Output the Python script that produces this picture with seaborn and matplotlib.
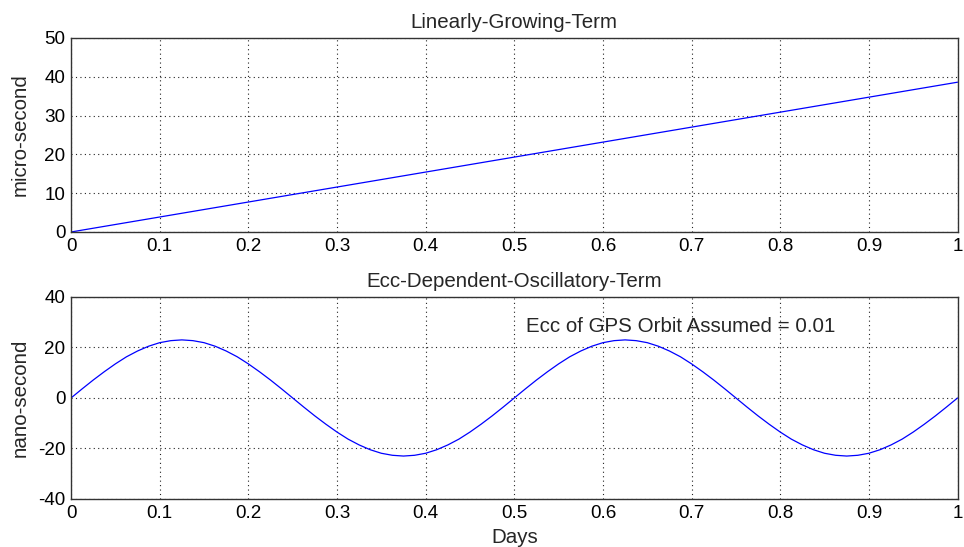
import numpy as np
import pandas as pd
import seaborn as sns
import matplotlib
matplotlib.use("Agg")
import matplotlib.pyplot as plt

# linear term (micro-second)
days_lin = [0.0, 1.0]
micro_sec = [0.0, 38.6]

# oscillatory term (nano-second), read every 0.0125 day
days_osc = [round(0.0125 * i, 4) for i in range(81)]
nano_sec = [0, 3.6, 7.1, 10.4, 13.5, 16.3, 18.6, 20.5, 21.9, 22.7,
            23, 22.7, 21.9, 20.5, 18.6, 16.3, 13.5, 10.4, 7.1, 3.6,
            0, -3.6, -7.1, -10.4, -13.5, -16.3, -18.6, -20.5, -21.9, -22.7,
            -23, -22.7, -21.9, -20.5, -18.6, -16.3, -13.5, -10.4, -7.1, -3.6,
            0, 3.6, 7.1, 10.4, 13.5, 16.3, 18.6, 20.5, 21.9, 22.7,
            23, 22.7, 21.9, 20.5, 18.6, 16.3, 13.5, 10.4, 7.1, 3.6,
            0, -3.6, -7.1, -10.4, -13.5, -16.3, -18.6, -20.5, -21.9, -22.7,
            -23, -22.7, -21.9, -20.5, -18.6, -16.3, -13.5, -10.4, -7.1, -3.6,
            0]

sns.set_style("white")
plt.rcParams['font.family'] = ['Liberation Sans', 'DejaVu Sans']
plt.rcParams['axes.unicode_minus'] = False

TICK = 13.6
LAB = 14.8

fig = plt.figure(figsize=(9.64, 5.47), dpi=100)
ax1 = fig.add_axes([0.0737, 0.5759, 0.9196, 0.3547])
ax2 = fig.add_axes([0.0737, 0.0878, 0.9196, 0.3693])

df1 = pd.DataFrame({"Days": days_lin, "val": micro_sec})
df2 = pd.DataFrame({"Days": days_osc, "val": nano_sec})

sns.lineplot(data=df1, x="Days", y="val", ax=ax1, color="blue", lw=0.9)
sns.lineplot(data=df2, x="Days", y="val", ax=ax2, color="blue", lw=0.9)

for ax in (ax1, ax2):
    ax.set_xlim(0, 1)
    ax.set_xticks(np.arange(0, 1.01, 0.1))
    ax.set_xticklabels(["0", "0.1", "0.2", "0.3", "0.4", "0.5", "0.6", "0.7", "0.8", "0.9", "1"])
    ax.grid(True, color="#222222", linestyle=(0, (1, 3)), linewidth=0.8)
    ax.tick_params(direction="in", length=5, labelsize=TICK, colors="black", pad=4)
    for s in ax.spines.values():
        s.set_visible(True)
        s.set_color("#333333")
        s.set_linewidth(1.0)
    ax.yaxis.set_label_coords(-0.047, 0.5)

ax1.set_ylim(0, 50)
ax1.set_yticks([0, 10, 20, 30, 40, 50])
ax1.set_xlabel("")
ax1.set_ylabel("micro-second", fontsize=LAB)
ax1.set_title("Linearly-Growing-Term", fontsize=LAB, pad=7)

ax2.set_ylim(-40, 40)
ax2.set_yticks([-40, -20, 0, 20, 40])
ax2.set_xlabel("Days", fontsize=LAB, labelpad=5)
ax2.set_ylabel("nano-second", fontsize=LAB)
ax2.set_title("Ecc-Dependent-Oscillatory-Term", fontsize=LAB, pad=7)
ax2.text(0.513, 28.5, "Ecc of GPS Orbit Assumed = 0.01", fontsize=LAB, va="center")

fig.savefig("out.png", dpi=100)
